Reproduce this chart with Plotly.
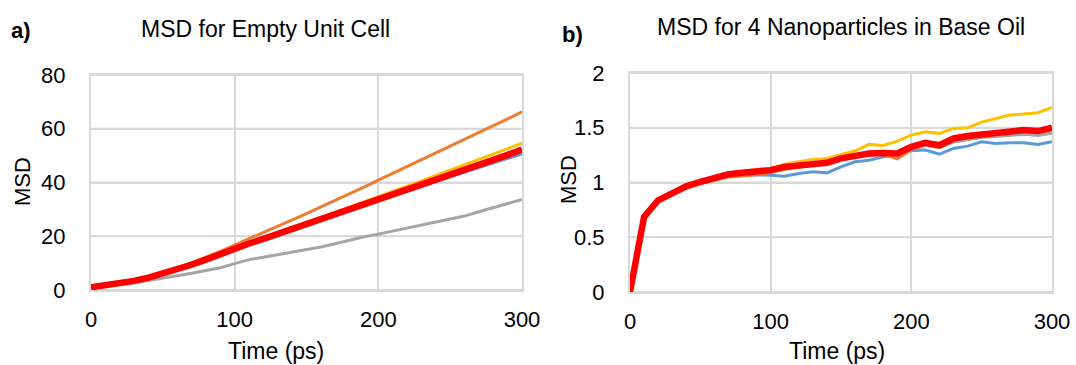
import plotly.graph_objects as go

time_ps = list(range(0, 301, 10))

# Panel a: MSD for Empty Unit Cell
a_blue = [1.0, 1.6, 2.4, 3.4, 4.6, 6.0, 7.6, 9.4, 11.3, 13.4, 15.4, 17.2, 18.9, 20.7, 22.5, 24.3, 26.1, 27.9, 29.7, 31.4, 33.2, 35.0, 36.8, 38.5, 40.3, 42.1, 43.9, 45.6, 47.3, 49.0, 50.6]
a_orange = [1.0, 1.6, 2.4, 3.5, 4.8, 6.3, 8.1, 10.1, 12.2, 14.4, 16.7, 18.9, 21.2, 23.5, 25.9, 28.4, 30.9, 33.3, 35.8, 38.3, 40.9, 43.4, 45.9, 48.4, 51.0, 53.6, 56.2, 58.7, 61.2, 63.7, 66.3]
a_gray = [1.0, 1.4, 2.0, 2.7, 3.5, 4.4, 5.3, 6.2, 7.2, 8.3, 9.8, 11.3, 12.2, 13.1, 14.2, 15.1, 16.0, 17.2, 18.6, 19.8, 20.8, 21.9, 23.0, 24.0, 25.1, 26.2, 27.5, 29.1, 30.7, 32.2, 33.7]
a_yellow = [0.8, 1.5, 2.3, 3.3, 4.5, 5.9, 7.5, 9.3, 11.2, 13.3, 15.5, 17.4, 19.2, 21.1, 23.0, 25.0, 26.9, 28.9, 30.8, 32.8, 34.7, 36.7, 38.8, 40.6, 42.6, 44.6, 46.5, 48.5, 50.5, 52.6, 54.6]
a_red = [1.0, 1.6, 2.4, 3.4, 4.6, 6.0, 7.6, 9.4, 11.3, 13.4, 15.5, 17.3, 19.0, 20.8, 22.6, 24.4, 26.2, 28.0, 29.8, 31.6, 33.5, 35.3, 37.1, 38.9, 40.8, 42.7, 44.6, 46.5, 48.4, 50.3, 52.3]

# Panel b: MSD for 4 Nanoparticles in Base Oil
b_blue = [0.0, 0.68, 0.83, 0.90, 0.96, 1.00, 1.03, 1.06, 1.07, 1.07, 1.067, 1.058, 1.082, 1.098, 1.088, 1.143, 1.189, 1.204, 1.235, 1.25, 1.29, 1.296, 1.259, 1.311, 1.332, 1.372, 1.357, 1.363, 1.363, 1.348, 1.372]
b_orange = [0.0, 0.68, 0.83, 0.89, 0.95, 0.99, 1.02, 1.05, 1.06, 1.07, 1.09, 1.12, 1.14, 1.16, 1.17, 1.21, 1.24, 1.25, 1.26, 1.215, 1.30, 1.34, 1.32, 1.38, 1.40, 1.42, 1.43, 1.44, 1.45, 1.44, 1.46]
b_gray = [0.0, 0.68, 0.83, 0.90, 0.96, 1.00, 1.03, 1.07, 1.08, 1.09, 1.10, 1.13, 1.15, 1.16, 1.17, 1.21, 1.24, 1.25, 1.26, 1.25, 1.31, 1.34, 1.32, 1.37, 1.39, 1.41, 1.42, 1.43, 1.44, 1.43, 1.45]
b_yellow = [0.0, 0.69, 0.84, 0.91, 0.97, 1.01, 1.04, 1.08, 1.10, 1.12, 1.128, 1.168, 1.189, 1.21, 1.22, 1.256, 1.29, 1.348, 1.338, 1.378, 1.433, 1.463, 1.448, 1.494, 1.50, 1.552, 1.582, 1.616, 1.625, 1.637, 1.686]
b_red = [0.0, 0.686, 0.838, 0.90, 0.966, 1.006, 1.037, 1.076, 1.088, 1.098, 1.113, 1.143, 1.159, 1.174, 1.18, 1.22, 1.25, 1.265, 1.27, 1.265, 1.326, 1.363, 1.34, 1.402, 1.424, 1.439, 1.448, 1.463, 1.479, 1.47, 1.50]

x_ticks = [0, 100, 200, 300]
a_y_ticks = [0, 20, 40, 60, 80]
b_y_ticks = [0, 0.5, 1, 1.5, 2]
b_y_labels = ["0", "0.5", "1", "1.5", "2"]

colors = {"blue": "#5B9BD5", "orange": "#ED7D31", "gray": "#A5A5A5", "yellow": "#FFC000", "red": "#FF0000"}

W, H = 1076, 365
def px(x):
    return x / W
def py(y):
    return 1 - y / H

fig = go.Figure()

def add(series, color, width, xa, ya):
    fig.add_trace(go.Scatter(x=time_ps, y=series, mode="lines", xaxis=xa, yaxis=ya,
                             line=dict(color=color, width=width), showlegend=False, hoverinfo="skip"))

for s, c in [(a_blue, "blue"), (a_orange, "orange"), (a_gray, "gray"), (a_yellow, "yellow")]:
    add(s, colors[c], 3, "x", "y")
add(a_red, colors["red"], 6.5, "x", "y")
for s, c in [(b_blue, "blue"), (b_orange, "orange"), (b_gray, "gray"), (b_yellow, "yellow")]:
    add(s, colors[c], 3, "x2", "y2")
add(b_red, colors["red"], 6.5, "x2", "y2")

font = "Liberation Sans, Arial, sans-serif"
grid = "#D9D9D9"

def axis(**kw):
    d = dict(showgrid=True, gridcolor=grid, gridwidth=2, zeroline=False,
             showline=True, mirror=True, linecolor=grid, linewidth=2,
             automargin=False, ticks="",
             tickfont=dict(family=font, size=22, color="#000"))
    d.update(kw)
    return d

fig.update_layout(
    template="none",
    width=W, height=H, margin=dict(l=0, r=0, t=0, b=0),
    paper_bgcolor="white", plot_bgcolor="white",
    xaxis=axis(domain=[px(91), px(522)], range=[0, 300], tickvals=x_ticks, anchor="y", ticklabelstandoff=9),
    yaxis=axis(domain=[py(290), py(75)], range=[0, 80], tickvals=a_y_ticks, anchor="x", ticklabelstandoff=19),
    xaxis2=axis(domain=[px(630), px(1052)], range=[0, 300], tickvals=x_ticks, anchor="y2", ticklabelstandoff=9),
    yaxis2=axis(domain=[py(292), py(73)], range=[0, 2], tickvals=b_y_ticks, ticktext=b_y_labels, anchor="x2", ticklabelstandoff=19),
)

# horizontal gridlines at the y tick values, spanning each plot's width
for v in a_y_ticks:
    fig.add_shape(type="line", xref="x domain", yref="y", x0=0, x1=1, y0=v, y1=v,
                  line=dict(color=grid, width=2), layer="below")
for v in b_y_ticks:
    fig.add_shape(type="line", xref="x2 domain", yref="y2", x0=0, x1=1, y0=v, y1=v,
                  line=dict(color=grid, width=2), layer="below")

ann = []
def text(x, y, t, size=23, bold=False, angle=0):
    ann.append(dict(x=px(x), y=py(y), xref="paper", yref="paper", text=("<b>%s</b>" % t) if bold else t,
                    showarrow=False, xanchor="center", yanchor="middle", textangle=angle,
                    font=dict(family=font, size=size, color="#000")))

text(265, 29, "MSD for Empty Unit Cell", 23)
text(21, 30, "a)", 22, bold=True)
text(841, 27, "MSD for 4 Nanoparticles in Base Oil", 23)
text(572, 35, "b)", 22, bold=True)
text(276, 351, "Time (ps)", 23)
text(837, 351, "Time (ps)", 23)
text(23, 182, "MSD", 22, angle=-90)
text(568, 180, "MSD", 22, angle=-90)
fig.update_layout(annotations=ann)

fig.write_html("out.html", config={"displayModeBar": False},
               post_script="document.body.style.margin='0';document.body.style.overflow='hidden';")
